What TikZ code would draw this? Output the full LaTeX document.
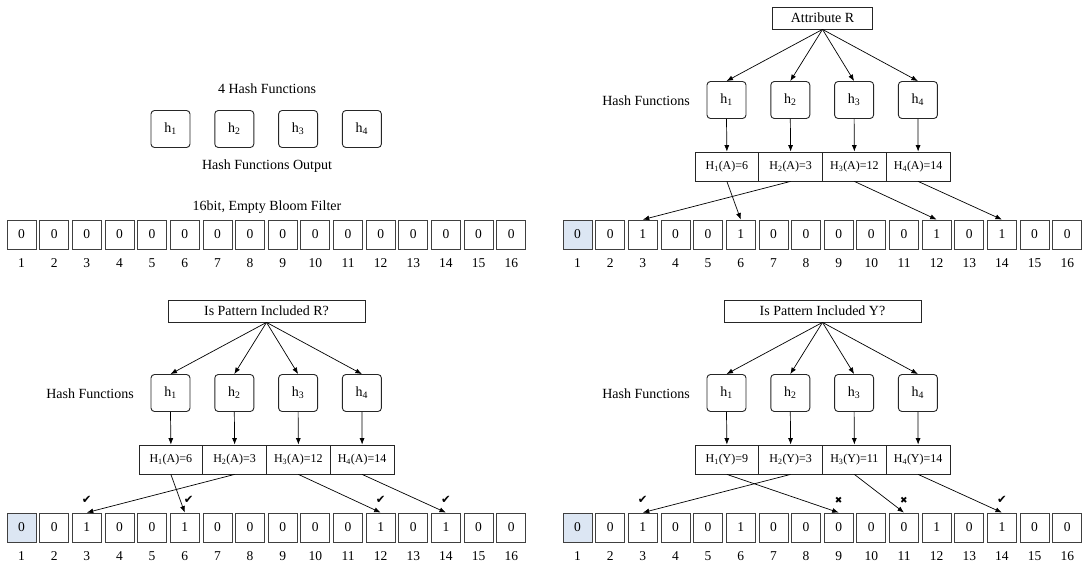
\documentclass[tikz,border=0pt]{standalone}
\usepackage{fontspec}
\setmainfont{Liberation Serif}
\newfontfamily\symfont{DejaVu Sans}
\usetikzlibrary{arrows.meta}
\definecolor{cellblue}{RGB}{220,230,243}

\tikzset{
  txt/.style={inner sep=0pt, font=\fontsize{14}{16}\selectfont},
  cell/.style={draw=black!75, line width=0.8pt, minimum width=29pt, minimum height=29pt,
    inner sep=0pt, font=\fontsize{13.5}{15}\selectfont},
  idx/.style={inner sep=0pt, font=\fontsize{13.5}{15}\selectfont},
  hbox/.style={draw=black!85, rounded corners=3.5pt, line width=0.9pt, minimum width=39pt,
    minimum height=37pt, inner sep=0pt, font=\fontsize{14}{16}\selectfont},
  outcell/.style={draw=black!85, line width=0.8pt, minimum width=63.75pt, minimum height=29pt,
    inner sep=0pt, font=\fontsize{12}{14}\selectfont},
  topbox/.style={draw=black!85, line width=0.8pt, minimum height=22pt, inner sep=0pt,
    font=\fontsize{14}{16}\selectfont},
  link/.style={-{Latex[length=6.5pt,width=5pt]}, line width=0.7pt},
  verdict/.style={inner sep=0pt, font=\symfont\fontsize{11.5}{13}\selectfont},
  cross/.style={inner sep=0pt, font=\symfont\fontsize{9}{11}\selectfont},
}

% a 16-bit filter: node prefix, bit values, fill of the first bit
\newcommand\bloomrow[3]{%
  \foreach \v [count=\k] in {#2} {
    \ifnum\k=1 \def\firstfill{#3}\else\def\firstfill{white}\fi
    \node[cell, fill=\firstfill] (#1c\k) at ({21.5+(\k-1)*32.65}, 234.5) {\v};
    \node[idx] (#1n\k) at ({21.5+(\k-1)*32.65}, 263) {\k};
  }%
}

% query box, four hash functions and their outputs
\newcommand\hashstage[4]{%
  \node[topbox, minimum width=#3] (#1top) at (266.5, 18) {#2};
  \node[txt] (#1lbl) at (90, 101) {Hash Functions};
  \foreach \i in {1,...,4} {
    \node[hbox] (#1h\i) at ({170.5+(\i-1)*63.8}, 100) {h\textsubscript{\i}};
    \draw[link] (#1top.south) -- (#1h\i.north);
  }
  \foreach \lab [count=\i] in {#4} {
    \node[outcell] (#1H\i) at ({170.875+(\i-1)*63.75}, 166.5) {\lab};
    \draw[link] (#1h\i.south) -- (#1H\i.north);
  }%
}

\begin{document}
\begin{tikzpicture}[x=1pt, y=-1pt]
\useasboundingbox (0,0) rectangle (1085,564);

% empty filter with the hash functions
\node[txt] (tltitle) at (267, 89) {4 Hash Functions};
\foreach \i in {1,...,4} {
  \node[hbox] (tlh\i) at ({170.5+(\i-1)*63.8}, 129) {h\textsubscript{\i}};
}
\node[txt] (tlout) at (267, 166) {Hash Functions Output};
\node[txt] (tlcap) at (267, 207) {16bit, Empty Bloom Filter};
\bloomrow{tl}{0,0,0,0,0,0,0,0,0,0,0,0,0,0,0,0}{white}

% inserting attribute R
\begin{scope}[shift={(556,0)}]
  \hashstage{tr}{Attribute R}{100pt}{{H\textsubscript{1}(A)=6},{H\textsubscript{2}(A)=3},{H\textsubscript{3}(A)=12},{H\textsubscript{4}(A)=14}}
  \bloomrow{tr}{0,0,1,0,0,1,0,0,0,0,0,1,0,1,0,0}{cellblue}
  \draw[link] (trH1.south) -- (trc6.north);
  \draw[link] (trH2.south) -- (trc3.north);
  \draw[link] (trH3.south) -- (trc12.north);
  \draw[link] (trH4.south) -- (trc14.north);
\end{scope}

% query for R
\begin{scope}[shift={(0,293)}]
  \hashstage{bl}{Is Pattern Included R?}{197pt}{{H\textsubscript{1}(A)=6},{H\textsubscript{2}(A)=3},{H\textsubscript{3}(A)=12},{H\textsubscript{4}(A)=14}}
  \bloomrow{bl}{0,0,1,0,0,1,0,0,0,0,0,1,0,1,0,0}{cellblue}
  \draw[link] (blH1.south) -- (blc6.north);
  \draw[link] (blH2.south) -- (blc3.north);
  \draw[link] (blH3.south) -- (blc12.north);
  \draw[link] (blH4.south) -- (blc14.north);
  \node[verdict] (blv3) at ([yshift=13pt]blc3.north) {✔};
  \node[verdict] (blv6) at ([xshift=4pt,yshift=13pt]blc6.north) {✔};
  \node[verdict] (blv12) at ([yshift=13pt]blc12.north) {✔};
  \node[verdict] (blv14) at ([yshift=13pt]blc14.north) {✔};
\end{scope}

% query for Y
\begin{scope}[shift={(556,293)}]
  \hashstage{br}{Is Pattern Included Y?}{197pt}{{H\textsubscript{1}(Y)=9},{H\textsubscript{2}(Y)=3},{H\textsubscript{3}(Y)=11},{H\textsubscript{4}(Y)=14}}
  \bloomrow{br}{0,0,1,0,0,1,0,0,0,0,0,1,0,1,0,0}{cellblue}
  \draw[link] (brH1.south) -- (brc9.north);
  \draw[link] (brH2.south) -- (brc3.north);
  \draw[link] (brH3.south) -- (brc11.north);
  \draw[link] (brH4.south) -- (brc14.north);
  \node[verdict] (brv3) at ([yshift=13pt]brc3.north) {✔};
  \node[cross] (brv9) at ([yshift=12pt]brc9.north) {✖};
  \node[cross] (brv11) at ([yshift=12pt]brc11.north) {✖};
  \node[verdict] (brv14) at ([yshift=13pt]brc14.north) {✔};
\end{scope}
\end{tikzpicture}
\end{document}
